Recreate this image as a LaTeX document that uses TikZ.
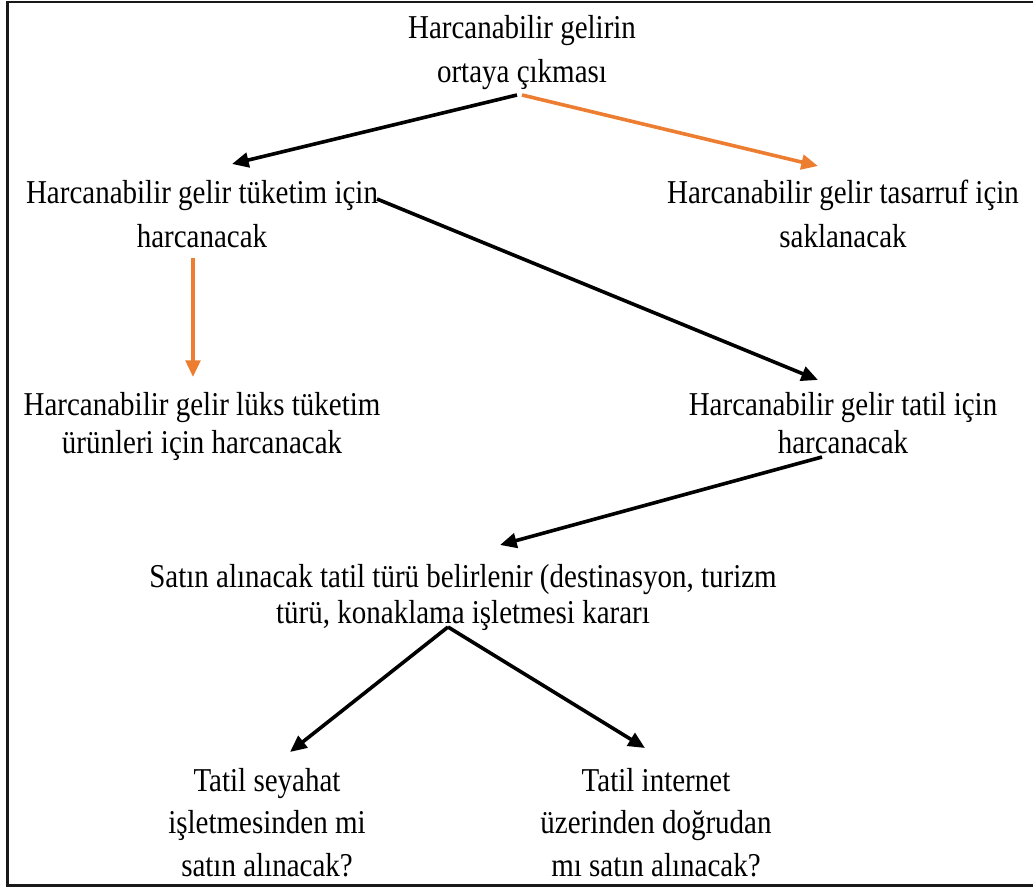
\documentclass[tikz,border=0pt]{standalone}
\usepackage{fontspec}
\setmainfont{Liberation Serif}[FakeStretch=0.87]
\usetikzlibrary{arrows.meta}
\definecolor{flowblack}{HTML}{000000}
\definecolor{floworange}{HTML}{ED7D31}
\begin{document}
\begin{tikzpicture}[x=0.75pt,y=-0.75pt,
  lbl/.style={anchor=north,inner sep=0pt,align=center,
    font=\fontsize{25}{#1}\selectfont},
  lbl/.default=30,
  link/.style={line width=2.7pt,draw=flowblack,
    -{Triangle[length=12.5pt,width=11pt]}},
  linko/.style={link,draw=floworange,
    -{Triangle[length=12.5pt,width=11pt,fill=floworange]}},
  frame/.style={line width=1.9pt,draw=black!90}]
\useasboundingbox (0,0) rectangle (1033,888);
% open frame (left, top and bottom edges)
\draw[frame] (1040,2.2) -- (7.3,2.2) -- (7.3,885.5) -- (1040,885.5);

% text blocks: north = first baseline - 0.7*baselineskip
\node[lbl=33.5] (gelir) at (522,38-0.7*45)
  {\strut Harcanabilir gelirin\\\strut ortaya çıkması};
\node[lbl=33.5] (tuketim) at (202,203-0.7*45)
  {\strut Harcanabilir gelir tüketim için\\\strut harcanacak};
\node[lbl=33.5] (tasarruf) at (843,203-0.7*45)
  {\strut Harcanabilir gelir tasarruf için\\\strut saklanacak};
\node[lbl=29] (luks) at (202,415-0.7*39)
  {\strut Harcanabilir gelir lüks tüketim\\\strut ürünleri için harcanacak};
\node[lbl=29] (tatil) at (843,415-0.7*39)
  {\strut Harcanabilir gelir tatil için\\\strut harcanacak};
\node[lbl=27.5] (tur) at (463,587-0.7*37)
  {\strut Satın alınacak tatil türü belirlenir (destinasyon, turizm\\\strut türü, konaklama işletmesi kararı};
\node[lbl=32] (seyahat) at (267,791-0.7*43)
  {\strut Tatil seyahat\\\strut işletmesinden mi\\\strut satın alınacak?};
\node[lbl=32] (internet) at (656,791-0.7*43)
  {\strut Tatil internet\\\strut üzerinden doğrudan\\\strut mı satın alınacak?};

% connector end points
\coordinate (gelirL) at (517,95);
\coordinate (gelirR) at (522,95);
\coordinate (tuketimIn) at (232,164);
\coordinate (tasarrufIn) at (818,166);
\coordinate (tuketimDown) at (193,258);
\coordinate (luksIn) at (193,377);
\coordinate (tuketimR) at (377,199);
\coordinate (tatilIn) at (818,380);
\coordinate (tatilOut) at (822,457);
\coordinate (turIn) at (500,545);
\coordinate (turOut) at (448,627);
\coordinate (seyahatIn) at (290,752);
\coordinate (internetIn) at (645,748);

\draw[link] (gelirL) -- (tuketimIn);
\draw[linko] (gelirR) -- (tasarrufIn);
\draw[linko] (tuketimDown) -- (luksIn);
\draw[link] (tuketimR) -- (tatilIn);
\draw[link] (tatilOut) -- (turIn);
\draw[link] (turOut) -- (seyahatIn);
\draw[link] (turOut) -- (internetIn);
\end{tikzpicture}
\end{document}
